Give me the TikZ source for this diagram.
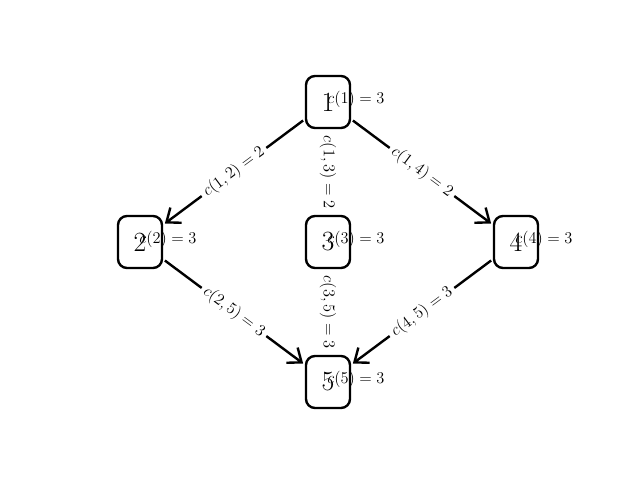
\RequirePackage{fix-cm}
\documentclass[tikz,border=0pt]{standalone}
\usetikzlibrary{arrows.meta,calc,backgrounds}
\begin{document}
\begin{tikzpicture}[x=1pt,y=-1pt,
  vertex/.style={draw, line width=2.4pt, rounded corners=9pt, minimum width=44pt,
    minimum height=52pt, inner sep=0pt, font=\fontsize{27.8}{30}\selectfont},
  cost/.style={font=\fontsize{16.4}{18}\selectfont},
  weight/.style={fill=white, inner sep=4pt, font=\fontsize{16.4}{18}\selectfont},
  vweight/.style={weight, minimum width=90pt},
  link/.style={line width=2.4pt, -{Straight Barb[length=12pt,width=19pt,line width=2.4pt]},
    shorten <=31pt, shorten >=31pt}]
\useasboundingbox (0,0) rectangle (640,480);

% graph vertices
\node[vertex] (n1) at (328,102) {1};
\node[vertex] (n2) at (140,242) {2};
\node[vertex] (n3) at (328,242) {3};
\node[vertex] (n4) at (516,242) {4};
\node[vertex] (n5) at (328,382) {5};

\begin{scope}[on background layer]
% directed edges
\draw[link] (n1.center) -- (n2.center);
\draw[link] (n1.center) -- (n3.center);
\draw[link] (n1.center) -- (n4.center);
\draw[link] (n2.center) -- (n5.center);
\draw[link] (n3.center) -- (n5.center);
\draw[link] (n4.center) -- (n5.center);

% edge weights
\node[weight, rotate=36.7]  (w12) at ($(n1)!0.5!(n2)$) {$c(1,2) = 2$};
\node[weight, rotate=-36.7] (w14) at ($(n1)!0.5!(n4)$) {$c(1,4) = 2$};
\node[weight, rotate=-36.7] (w25) at ($(n2)!0.5!(n5)$) {$c(2,5) = 3$};
\node[weight, rotate=36.7]  (w45) at ($(n4)!0.5!(n5)$) {$c(4,5) = 3$};
\node[vweight, rotate=-90]  (w13) at ($(n1)!0.5!(n3)$) {$c(1,3) = 2$};
\node[vweight, rotate=-90]  (w35) at ($(n3)!0.5!(n5)$) {$c(3,5) = 3$};
\end{scope}

% vertex costs
\node[cost] (c1) at ([shift={(28,-3)}]n1.center) {$c(1) = 3$};
\node[cost] (c2) at ([shift={(28,-3)}]n2.center) {$c(2) = 3$};
\node[cost] (c3) at ([shift={(28,-3)}]n3.center) {$c(3) = 3$};
\node[cost] (c4) at ([shift={(28,-3)}]n4.center) {$c(4) = 3$};
\node[cost] (c5) at ([shift={(28,-3)}]n5.center) {$c(5) = 3$};
\end{tikzpicture}
\end{document}
